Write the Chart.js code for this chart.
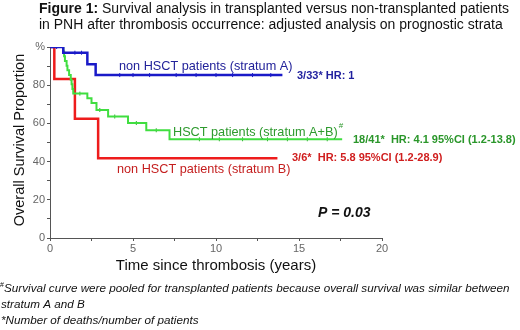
<!DOCTYPE html>
<html><head><meta charset="utf-8">
<script src="https://cdn.jsdelivr.net/npm/chart.js@4.4.1/dist/chart.umd.min.js"></script>
<style>html,body{margin:0;padding:0;background:#fff}#wrap{width:520px;height:330px;position:relative}</style>
</head><body><div id="wrap"><canvas id="c" width="520" height="330"></canvas></div>
<script>
// ---- data ----
const blueTimes = [0, 0.8, 2.25, 2.75, 14.0];
const blueSurv  = [100, 97.0, 91.0, 85.3, 85.3];
const blueCensorTimes = [0.4, 1.5, 1.9, 4.2, 5.0, 6.0, 7.6, 8.8, 10.0, 11.0, 12.2, 13.3];
const blueCensorSurv  = [100, 97.0, 97.0, 85.3, 85.3, 85.3, 85.3, 85.3, 85.3, 85.3, 85.3, 85.3];

const greenTimes = [0, 0.8, 0.85, 0.9, 1.0, 1.05, 1.15, 1.25, 1.3, 1.35, 1.4, 2.25, 2.5, 2.8, 3.5, 4.7, 5.8, 7.2, 17.6];
const greenSurv  = [100, 97.6, 95.1, 92.7, 90.2, 87.8, 85.4, 82.9, 80.5, 78.0, 75.6, 73.2, 70.7, 67.0, 63.6, 60.2, 56.4, 51.7, 51.7];
const greenCensorTimes = [1.8, 3.0, 3.9, 5.2, 6.4, 9.0, 10.2, 11.6, 13.1, 14.3, 15.5, 16.7];
const greenCensorSurv  = [75.6, 67.0, 63.6, 60.2, 56.4, 51.7, 51.7, 51.7, 51.7, 51.7, 51.7, 51.7];

const redTimes = [0, 0.26, 1.5, 2.9, 13.7];
const redSurv  = [100, 83.3, 62.5, 41.7, 41.7];

const xTickLabels = [0, 5, 10, 15, 20];
const yTickLabels = [0, 20, 40, 60, 80];
const yTopLabel = '%';

const titleBold = 'Figure 1:';
const titleRest1 = ' Survival analysis in transplanted versus non-transplanted patients';
const titleLine2 = 'in PNH after thrombosis occurrence: adjusted analysis on prognostic strata';
const yTitle = 'Overall Survival Proportion';
const xTitle = 'Time since thrombosis (years)';
const blueLabel = 'non HSCT patients (stratum A)';
const blueStat = '3/33* HR: 1';
const greenLabel = 'HSCT patients (stratum A+B)';
const greenStat = '18/41*  HR: 4.1 95%CI (1.2-13.8)';
const redLabel = 'non HSCT patients (stratum B)';
const redStat = '3/6*  HR: 5.8 95%CI (1.2-28.9)';
const pText = 'P = 0.03';
const foot1 = 'Survival curve were pooled for transplanted patients because overall survival was similar between';
const foot2 = 'stratum A and B';
const foot3 = '*Number of deaths/number of patients';

// ---- build ----
const pts = (t, s) => t.map((v, i) => ({x: v, y: s[i]}));
const FONT = '"Liberation Sans", Arial, Helvetica, sans-serif';
const BLUE = '#1a1ac8', GREEN = '#40de40', RED = '#ee1c1c';

const textPlugin = {
  id: 'texts',
  afterDraw(chart) {
    const ctx = chart.ctx;
    ctx.save();
    ctx.textBaseline = 'alphabetic';
    ctx.fillStyle = '#111';
    ctx.font = 'bold 14px ' + FONT;
    ctx.fillText(titleBold, 39, 13);
    const w = ctx.measureText(titleBold).width;
    ctx.font = '14px ' + FONT;
    ctx.fillText(titleRest1, 39 + w, 13);
    ctx.fillText(titleLine2, 39, 29);

    ctx.textBaseline = 'middle';
    // axis titles
    ctx.fillStyle = '#111';
    ctx.font = '15px ' + FONT;
    ctx.textAlign = 'center';
    ctx.fillText(xTitle, 216, 266);
    ctx.save();
    ctx.translate(20, 140);
    ctx.rotate(-Math.PI / 2);
    ctx.font = '14.5px ' + FONT;
    ctx.fillText(yTitle, 0, 0);
    ctx.restore();
    ctx.textAlign = 'left';

    // annotations
    ctx.font = '12.7px ' + FONT;
    ctx.fillStyle = '#22229a';
    ctx.fillText(blueLabel, 119, 66);
    ctx.fillStyle = '#2e9a2e';
    ctx.fillText(greenLabel, 173, 132);
    const gw = ctx.measureText(greenLabel).width;
    ctx.font = '8px ' + FONT;
    ctx.fillText('#', 173 + gw + 1, 126);
    ctx.font = '12.7px ' + FONT;
    ctx.fillStyle = '#c41e1e';
    ctx.fillText(redLabel, 117, 169);

    ctx.font = 'bold 11px ' + FONT;
    ctx.fillStyle = '#1f1f9e';
    ctx.fillText(blueStat, 297, 76);
    ctx.fillStyle = '#2a962a';
    ctx.fillText(greenStat, 353, 140);
    ctx.fillStyle = '#d01e1e';
    ctx.fillText(redStat, 292, 158);

    ctx.fillStyle = '#111';
    ctx.font = 'italic bold 14px ' + FONT;
    ctx.fillText(pText, 318, 213);

    // footnotes
    ctx.font = '7px ' + FONT;
    ctx.fillText('#', 0, 285);
    ctx.font = 'italic 11.7px ' + FONT;
    ctx.fillText(foot1, 4, 288.5);
    ctx.fillText(foot2, 1, 305);
    ctx.fillText(foot3, 1, 321);
    ctx.restore();
  }
};

const tickFont = {size: 11, family: FONT};
new Chart(document.getElementById('c'), {
  type: 'line',
  data: {
    datasets: [
      {data: pts(blueTimes, blueSurv), borderColor: BLUE, borderWidth: 2.5, stepped: 'before', pointRadius: 0, fill: false, order: 0},
      {type: 'scatter', data: pts(blueCensorTimes, blueCensorSurv), borderColor: BLUE, backgroundColor: BLUE, pointStyle: 'line', rotation: 90, pointRadius: 2, borderWidth: 1, order: 0},
      {data: pts(greenTimes, greenSurv), borderColor: GREEN, borderWidth: 2, stepped: 'before', pointRadius: 0, fill: false, order: 1},
      {type: 'scatter', data: pts(greenCensorTimes, greenCensorSurv), borderColor: '#30b030', backgroundColor: GREEN, pointStyle: 'line', rotation: 90, pointRadius: 2, borderWidth: 1, order: 1},
      {data: pts(redTimes, redSurv), borderColor: RED, borderWidth: 2.5, stepped: 'before', pointRadius: 0, fill: false, order: 2}
    ]
  },
  options: {
    responsive: false,
    animation: false,
    layout: {padding: {left: 0, right: 138, top: 47, bottom: 62}},
    plugins: {legend: {display: false}, tooltip: {enabled: false}},
    scales: {
      x: {
        type: 'linear', min: 0, max: 20,
        afterFit: s => { s.height = 30; },
        ticks: {stepSize: 2.5, autoSkip: false, maxRotation: 0, padding: 1, color: '#666', font: tickFont,
          callback: v => xTickLabels.includes(v) ? String(v) : ''},
        grid: {drawOnChartArea: false, drawTicks: true, tickLength: 3, color: '#555'},
        border: {color: '#555', width: 1}
      },
      y: {
        min: 0, max: 100,
        afterFit: s => { s.width = 50; },
        ticks: {stepSize: 10, autoSkip: false, padding: 2, color: '#666', font: tickFont,
          callback: v => v === 100 ? yTopLabel : (yTickLabels.includes(v) ? String(v) : '')},
        grid: {drawOnChartArea: false, drawTicks: true, tickLength: 3, color: '#555'},
        border: {color: '#555', width: 1}
      }
    }
  },
  plugins: [textPlugin]
});
</script></body></html>
